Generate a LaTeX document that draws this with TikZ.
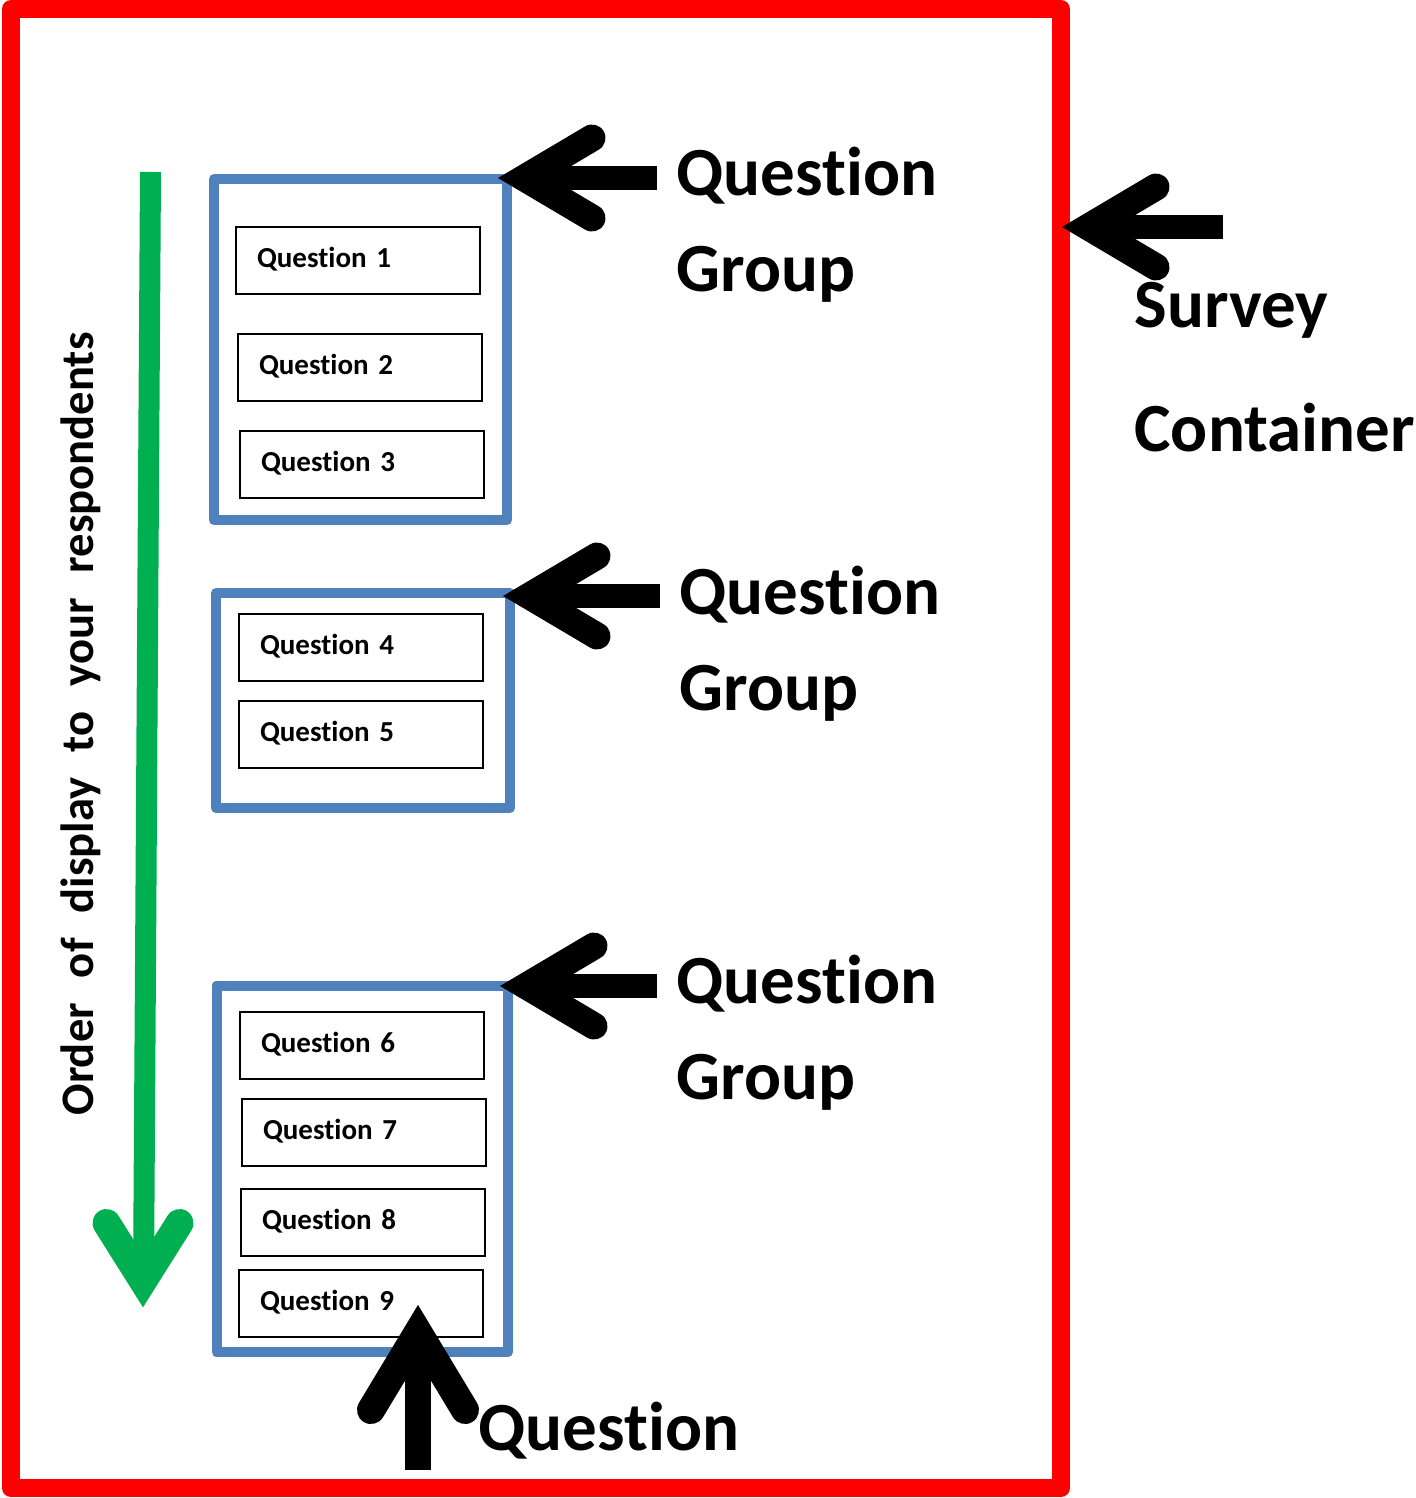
\documentclass[tikz,border=0pt]{standalone}
\usepackage{fontspec}
\setmainfont{Carlito}[Ligatures=NoCommon]
\definecolor{frame}{RGB}{255,0,0}
\definecolor{grp}{RGB}{79,129,189}
\definecolor{order}{RGB}{0,176,80}
\tikzset{
  container/.style={draw=frame, line width=9pt, line join=round, minimum width=525pt, minimum height=739.5pt, inner sep=0pt},
  groupbox/.style={draw=grp, line width=5pt, line join=round, inner sep=0pt},
  qbox/.style={draw=black, line width=0.75pt, rectangle, minimum height=33.5pt, inner xsep=10.5pt, inner ysep=0pt, text width=101pt, text height=9.5pt, text depth=3pt, align=left, font=\bfseries\fontsize{14.5}{17}\selectfont},
  biglabel/.style={inner sep=0pt, anchor=base west, font=\bfseries\fontsize{34.5}{41}\selectfont},
}
% #1 tip, #2 rotation, #3 arm length along, #4 arm half spread, #5 head line width,
% #6 vertex offset, #7 shaft width, #8 shaft end, #9 colour
\newcommand\chevarrow[9]{%
  \begin{scope}[shift={(#1)}, rotate=#2]
    \draw[#9, line width=#7, line cap=butt] (#6,0) -- (#8,0);
    \draw[#9, line width=#5, line cap=round, line join=miter] (#3,#4) -- (#6,0) -- (#3,-#4);
  \end{scope}}
\begin{document}
\begin{tikzpicture}[x=0.5pt,y=-0.5pt]
\useasboundingbox (0,0) rectangle (1416,1498);
% survey container
\node[container] (survey) at (536,748.5) {};
% question groups
\node[groupbox, minimum width=146.5pt, minimum height=170.5pt] (g1) at (360.5,349.5) {};
\node[groupbox, minimum width=147pt, minimum height=107.5pt] (g2) at (363,700.5) {};
\node[groupbox, minimum width=145.75pt, minimum height=183.25pt] (g3) at (362.25,1168.75) {};
% questions
\node[qbox] (q1) at (358,260.5) {Question 1};
\node[qbox] (q2) at (360,367.5) {Question 2};
\node[qbox] (q3) at (362,464.5) {Question 3};
\node[qbox] (q4) at (361,647.5) {Question 4};
\node[qbox] (q5) at (361,734.5) {Question 5};
\node[qbox] (q6) at (362,1045.5) {Question 6};
\node[qbox] (q7) at (364,1132.5) {Question 7};
\node[qbox] (q8) at (363,1222.5) {Question 8};
\node[qbox] (q9) at (361,1303.5) {Question 9};
% labels
\node[biglabel] (gq1) at (676,196) {Question};
\node[biglabel] (gg1) at (676,292) {Group};
\node[biglabel] (gq2) at (679,614) {Question};
\node[biglabel] (gg2) at (679,710) {Group};
\node[biglabel] (gq3) at (676,1003) {Question};
\node[biglabel] (gg3) at (676,1099) {Group};
\node[biglabel] (sv) at (1134,327) {Survey};
\node[biglabel] (ct) at (1134,451) {Container};
\node[biglabel] (ql) at (478,1450) {Question};
\node[rotate=90, anchor=base, inner sep=0pt, font=\bfseries\fontsize{23.3}{28}\selectfont] (ordertext) at (93,724)
  {Order\hspace{12.5pt}of\hspace{12.5pt}display\hspace{12.5pt}to\hspace{12.5pt}your\hspace{12.5pt}respondents};
% order arrow
\coordinate (otop) at (150.5,172);
\coordinate (otip) at (143,1307);
\draw[order, line width=10.5pt, line cap=butt] (otop) -- (143.5,1281);
\chevarrow{otip}{90}{84}{36.5}{14pt}{26}{10.5pt}{26}{order}
% pointer arrows
\coordinate (t1) at (498,178);
\coordinate (t2) at (503,596);
\coordinate (t3) at (500,986);
\coordinate (ts) at (1062,227);
\coordinate (tq) at (418,1305);
\chevarrow{t1}{0}{94}{40}{13.5pt}{26.5}{12pt}{159}{black}
\chevarrow{t2}{0}{94}{40}{13.5pt}{26.5}{12pt}{157}{black}
\chevarrow{t3}{0}{94}{40}{13.5pt}{26.5}{12pt}{157}{black}
\chevarrow{ts}{0}{94}{40}{13.5pt}{26.5}{12pt}{161}{black}
\chevarrow{tq}{-90}{105}{47}{14pt}{27}{13pt}{165}{black}
\end{tikzpicture}
\end{document}
